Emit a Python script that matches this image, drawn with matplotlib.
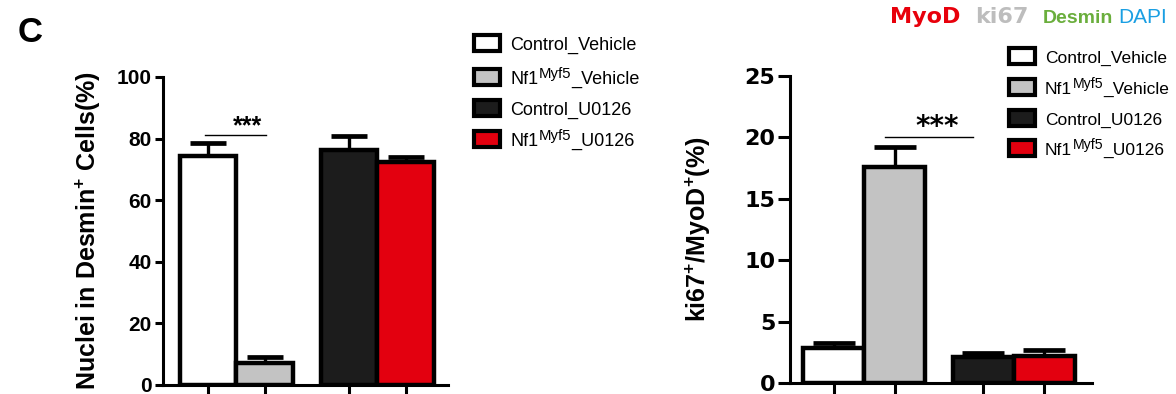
import matplotlib
matplotlib.use("Agg")
import matplotlib.pyplot as plt
from matplotlib.patches import Rectangle
from matplotlib.text import Annotation

# --- data ---
# legend labels as (base, superscript, tail)
groups = [("Control_Vehicle", "", ""),
          ("Nf1", "Myf5", "_Vehicle"),
          ("Control_U0126", "", ""),
          ("Nf1", "Myf5", "_U0126")]
colors = ["#ffffff", "#c3c3c3", "#1c1c1c", "#e3000f"]

nuclei_mean = [74.4, 7.1, 76.2, 72.4]
nuclei_err = [4.2, 2.0, 4.6, 1.7]

ki67_mean = [2.85, 17.6, 2.1, 2.2]
ki67_err = [0.4, 1.6, 0.35, 0.5]

W, H = 1176, 394

plt.rcParams['font.family'] = ['Liberation Sans', 'DejaVu Sans']
plt.rcParams['mathtext.fontset'] = 'custom'
plt.rcParams['mathtext.rm'] = 'Liberation Sans'
plt.rcParams['mathtext.bf'] = 'Liberation Sans:bold'
plt.rcParams['mathtext.it'] = 'Liberation Sans:italic'


def px_box(x0, y0, x1, y1):
    # pixel box (top-left origin) -> figure fraction rect
    return [x0 / W, 1 - y1 / H, (x1 - x0) / W, (y1 - y0) / H]


def style_axis(ax, tickfont, ticksize, ylen):
    for s in ["top", "right"]:
        ax.spines[s].set_visible(False)
    for s in ["left", "bottom"]:
        ax.spines[s].set_linewidth(2.2)
    ax.tick_params(axis="y", direction="out", length=ylen, width=2.2, pad=2,
                   labelsize=ticksize)
    ax.tick_params(axis="x", direction="out", length=9, width=2.2,
                   labelbottom=False)
    for lab in ax.get_yticklabels():
        lab.set_fontweight("bold")
        lab.set_family(tickfont)


def draw_bars(ax, pos, means, errs, capsize):
    ax.bar(pos, means, width=1.0, color=colors, edgecolor="black",
           linewidth=3.2, zorder=3)
    ax.errorbar(pos, means, yerr=[[0] * len(errs), errs], fmt="none",
                ecolor="black", elinewidth=2.4, capsize=capsize, capthick=3.4,
                zorder=2)
    ax.set_xticks(pos)


fig = plt.figure(figsize=(W / 100, H / 100), dpi=100)

# --- left panel ---
ax1 = fig.add_axes(px_box(163, 77, 448, 385))
pos1 = [0, 1, 2.5, 3.5]
draw_bars(ax1, pos1, nuclei_mean, nuclei_err, 13)
ax1.set_xlim(-0.80, 4.25)
ax1.set_ylim(0, 100)
ax1.set_yticks([0, 20, 40, 60, 80, 100])
style_axis(ax1, "Liberation Sans", 15, 6)
ax1.set_ylabel("Nuclei in Desmin$^{\\mathbf{+}}$ Cells(%)", fontsize=18,
               fontweight="bold")
ax1.yaxis.set_label_coords(-0.21, 0.5)
ax1.plot([-0.05, 1.03], [81.2, 81.2], color="black", lw=1.0)
ax1.text(0.70, 81.8, "***", ha="center", va="baseline", fontsize=18,
         fontweight="bold")

# --- right panel ---
ax2 = fig.add_axes(px_box(790, 76, 1092, 383))
pos2 = [0, 1, 2.45, 3.45]
draw_bars(ax2, pos2, ki67_mean, ki67_err, 15)
ax2.set_xlim(-0.72, 4.23)
ax2.set_ylim(0, 25)
ax2.set_yticks([0, 5, 10, 15, 20, 25])
style_axis(ax2, "DejaVu Sans", 16, 8.5)
ax2.set_ylabel("ki67$^{\\mathbf{+}}$/MyoD$^{\\mathbf{+}}$(%)", fontsize=18,
               fontweight="bold")
ax2.yaxis.set_label_coords(-0.255, 0.5)
ax2.plot([0.84, 2.28], [20.0, 20.0], color="black", lw=1.0)
ax2.text(1.69, 20.2, "***", ha="center", va="baseline", fontsize=20,
         fontweight="bold", family="DejaVu Sans")


# --- legends (drawn by hand to sit where the original has them) ---
def draw_legend(x0, rows, size):
    for (base, sup, tail), col, yc in zip(groups, colors, rows):
        r = Rectangle(((x0 + 2) / W, 1 - (yc + 8) / H), 26 / W, 16 / H,
                      transform=fig.transFigure, facecolor=col,
                      edgecolor="black", linewidth=3.0)
        fig.patches.append(r)
        yb = 1 - (yc + 7) / H
        t1 = fig.text((x0 + 38) / W, yb, base, ha="left", va="baseline",
                      fontsize=size)
        if sup:
            t2 = Annotation(sup, xy=(1, yb), xycoords=(t1, "figure fraction"),
                            xytext=(0.3, 4.5), textcoords="offset points",
                            ha="left", va="baseline", fontsize=size - 2.3)
            fig.add_artist(t2)
            t3 = Annotation(tail, xy=(1, yb), xycoords=(t2, "figure fraction"),
                            ha="left", va="baseline", fontsize=size)
            fig.add_artist(t3)


draw_legend(472, [43, 77, 108, 139], 13)
draw_legend(1007, [56, 87, 118, 148], 12.5)

# --- panel letter and stain title ---
fig.text(18 / W, 1 - 42 / H, "C", fontsize=25, fontweight="bold",
         va="baseline")
fig.text(890 / W, 1 - 23 / H, "MyoD", fontsize=16, fontweight="bold",
         family="DejaVu Sans", color="#e8000b", va="baseline")
fig.text(975 / W, 1 - 23 / H, "ki67", fontsize=16, fontweight="bold",
         family="DejaVu Sans", color="#bdbdbd", va="baseline")
fig.text(1043 / W, 1 - 23 / H, "Desmin", fontsize=14, fontweight="bold",
         color="#6aae3c", va="baseline")
fig.text(1118 / W, 1 - 23 / H, "DAPI", fontsize=15, color="#1a9fe3",
         va="baseline")

fig.savefig("out.png", dpi=100)
